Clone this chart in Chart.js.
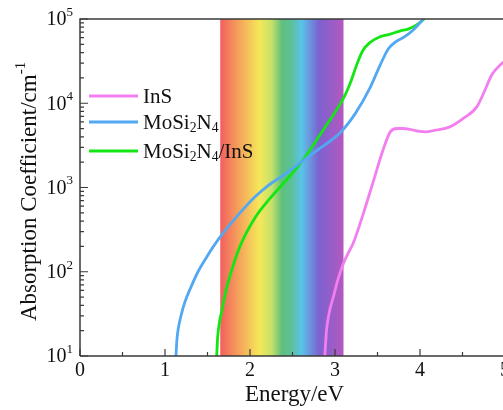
<!DOCTYPE html>
<html>
<head>
<meta charset="utf-8">
<script src="https://cdn.jsdelivr.net/npm/chart.js@4/dist/chart.umd.min.js"></script>
<style>
html,body{margin:0;padding:0;background:#fff;overflow:hidden;}
#wrap{width:503px;height:410px;overflow:hidden;position:relative;}
canvas{position:absolute;left:0;top:0;}
</style>
</head>
<body>
<div id="wrap"><canvas id="c" width="515" height="410"></canvas></div>
<script>
// ---- data ----
const inSEnergy = [2.88, 2.90, 2.93, 2.98, 3.035, 3.10, 3.155, 3.215, 3.333, 3.45, 3.57, 3.65, 3.73, 3.80, 3.88, 4.00, 4.06, 4.18, 4.35, 4.51, 4.67, 4.765, 4.843, 4.96, 5.00];
const inSAbs    = [10, 20, 32, 50, 81, 126, 166, 219, 490, 1175, 2884, 4571, 5012, 5012, 4898, 4624, 4571, 4786, 5248, 6607, 9120, 14355, 21627, 29512, 31623];

const moEnergy = [1.129, 1.141, 1.159, 1.188, 1.235, 1.306, 1.388, 1.482, 1.588, 1.706, 1.882, 2.059, 2.21, 2.40, 2.61, 2.80, 3.06, 3.24, 3.41, 3.53, 3.63, 3.73, 3.82, 3.92, 4.04];
const moAbs    = [10, 16, 22, 30, 44, 66, 100, 145, 213, 307, 500, 776, 1047, 1413, 2042, 2818, 4467, 7586, 15136, 28184, 44668, 54954, 61660, 74131, 100000];

const hetEnergy = [1.608, 1.62, 1.64, 1.67, 1.718, 1.788, 1.882, 2.059, 2.235, 2.42, 2.61, 2.86, 2.94, 3.06, 3.12, 3.18, 3.26, 3.33, 3.41, 3.53, 3.65, 3.77, 3.86, 3.96, 4.05];
const hetAbs    = [10, 17, 25, 35, 60, 107, 200, 437, 741, 1202, 2042, 4786, 6310, 9772, 12589, 17378, 29512, 42658, 52481, 61660, 66069, 72444, 75858, 85114, 100000];

const seriesNames = ["InS", "MoSi2N4", "MoSi2N4/InS"];
const xTickValues = [0, 1, 2, 3, 4, 5];
const yTickExponents = [1, 2, 3, 4, 5];
const visibleBand = [1.65, 3.1];

// ---- styling ----
const COLORS = ["#f27ef0", "#52a8f2", "#14e614"];
const SERIF = '"Liberation Serif", "Times New Roman", serif';
const AXIS = "#3a3a3a";

function pts(xs, ys){ return xs.map((x,i)=>({x:x, y:ys[i]})); }

function drawRich(ctx, parts, x, y, size, align){
  // parts: [text, mode] mode 0 normal, 1 sub, 2 sup
  let widths = parts.map(p=>{
    ctx.font = (p[1] ? size*0.65 : size) + "px " + SERIF;
    return ctx.measureText(p[0]).width;
  });
  let total = widths.reduce((a,b)=>a+b,0);
  let cx = align === "right" ? x - total : (align === "center" ? x - total/2 : x);
  parts.forEach((p,i)=>{
    ctx.font = (p[1] ? size*0.65 : size) + "px " + SERIF;
    let dy = p[1]===1 ? size*0.28 : (p[1]===2 ? -size*0.38 : 0);
    ctx.fillText(p[0], cx, y + dy);
    cx += widths[i];
  });
}

const decor = {
  id: "decor",
  beforeDatasetsDraw(chart){
    const {ctx, chartArea:a, scales:{x}} = chart;
    const x0 = x.getPixelForValue(visibleBand[0]);
    const x1 = x.getPixelForValue(visibleBand[1]);
    const g = ctx.createLinearGradient(x0, 0, x1, 0);
    g.addColorStop(0.00, "#f25f5f");
    g.addColorStop(0.15, "#f5a25a");
    g.addColorStop(0.32, "#f5e85a");
    g.addColorStop(0.42, "#c5e06a");
    g.addColorStop(0.50, "#5fc07c");
    g.addColorStop(0.58, "#5cc09a");
    g.addColorStop(0.66, "#5ac4e8");
    g.addColorStop(0.80, "#7c62d0");
    g.addColorStop(1.00, "#b458c0");
    ctx.save();
    ctx.fillStyle = g;
    ctx.fillRect(x0, a.top, x1 - x0, a.bottom - a.top);
    ctx.restore();
  },
  afterDraw(chart){
    const {ctx, chartArea:a, scales:{x, y}} = chart;
    ctx.save();
    // frame top + left + bottom
    ctx.strokeStyle = AXIS;
    ctx.lineWidth = 1.5;
    ctx.beginPath();
    ctx.moveTo(a.left, a.bottom); ctx.lineTo(a.left, a.top); ctx.lineTo(a.right, a.top);
    ctx.moveTo(a.left, a.bottom); ctx.lineTo(a.right, a.bottom);
    ctx.stroke();
    // x ticks (inward)
    ctx.lineWidth = 1.2;
    ctx.beginPath();
    for (let v = 0; v <= 5.001; v += 0.5){
      const px = x.getPixelForValue(v);
      const len = (Math.abs(v - Math.round(v)) < 1e-6) ? 7 : 4;
      ctx.moveTo(px, a.bottom); ctx.lineTo(px, a.bottom - len);
    }
    // y ticks (inward)
    yTickExponents.forEach((e, i)=>{
      const base = Math.pow(10, e);
      let py = y.getPixelForValue(base);
      ctx.moveTo(a.left, py); ctx.lineTo(a.left + 8, py);
      if (i < yTickExponents.length - 1){
        for (let m = 2; m <= 9; m++){
          py = y.getPixelForValue(base * m);
          ctx.moveTo(a.left, py); ctx.lineTo(a.left + 4, py);
        }
      }
    });
    ctx.stroke();
    // tick labels
    ctx.fillStyle = "#111";
    ctx.textBaseline = "middle";
    ctx.textAlign = "left";
    xTickValues.forEach(v=>{
      drawRich(ctx, [[String(v),0]], x.getPixelForValue(v), a.bottom + 15, 20, "center");
    });
    yTickExponents.forEach(e=>{
      drawRich(ctx, [["10",0],[String(e),2]], a.left - 7, y.getPixelForValue(Math.pow(10,e)) + 1, 20, "right");
    });
    // axis titles
    drawRich(ctx, [["Energy/eV",0]], (a.left + 505)/2 + 2, 395, 23, "center");
    ctx.save();
    ctx.translate(30, (a.top + a.bottom)/2 + 4);
    ctx.rotate(-Math.PI/2);
    drawRich(ctx, [["Absorption Coefficient/cm",0],["-1",2]], 0, 0, 23, "center");
    ctx.restore();
    // legend
    const leg = [
      [[["InS",0]], 96],
      [[["MoSi",0],["2",1],["N",0],["4",1]], 122],
      [[["MoSi",0],["2",1],["N",0],["4",1],["/InS",0]], 151]
    ];
    leg.forEach((L, i)=>{
      ctx.strokeStyle = COLORS[i];
      ctx.lineWidth = 3;
      ctx.beginPath(); ctx.moveTo(89, L[1]); ctx.lineTo(138, L[1]); ctx.stroke();
      ctx.fillStyle = "#111";
      drawRich(ctx, L[0], 143, L[1] + 1, 21, "left");
    });
    ctx.restore();
  }
};

new Chart(document.getElementById("c"), {
  type: "line",
  data: {
    datasets: [
      {label: seriesNames[0], data: pts(inSEnergy, inSAbs), borderColor: COLORS[0]},
      {label: seriesNames[1], data: pts(moEnergy, moAbs), borderColor: COLORS[1]},
      {label: seriesNames[2], data: pts(hetEnergy, hetAbs), borderColor: COLORS[2]}
    ].map(d=>Object.assign(d, {borderWidth: 2.8, pointRadius: 0, fill: false, cubicInterpolationMode: "monotone"}))
  },
  options: {
    responsive: false,
    animation: false,
    devicePixelRatio: 1,
    layout: {padding: {left: 0, top: 19, right: 10, bottom: 0}},
    plugins: {legend: {display: false}, tooltip: {enabled: false}},
    scales: {
      x: {
        type: "linear", min: 0, max: 5,
        grid: {display: false}, border: {display: false},
        ticks: {display: false},
        afterFit: s => { s.height = 54; }
      },
      y: {
        type: "logarithmic", min: 10, max: 100000,
        grid: {display: false}, border: {display: false},
        ticks: {display: false},
        afterFit: s => { s.width = 80; }
      }
    }
  },
  plugins: [decor]
});
</script>
</body>
</html>
